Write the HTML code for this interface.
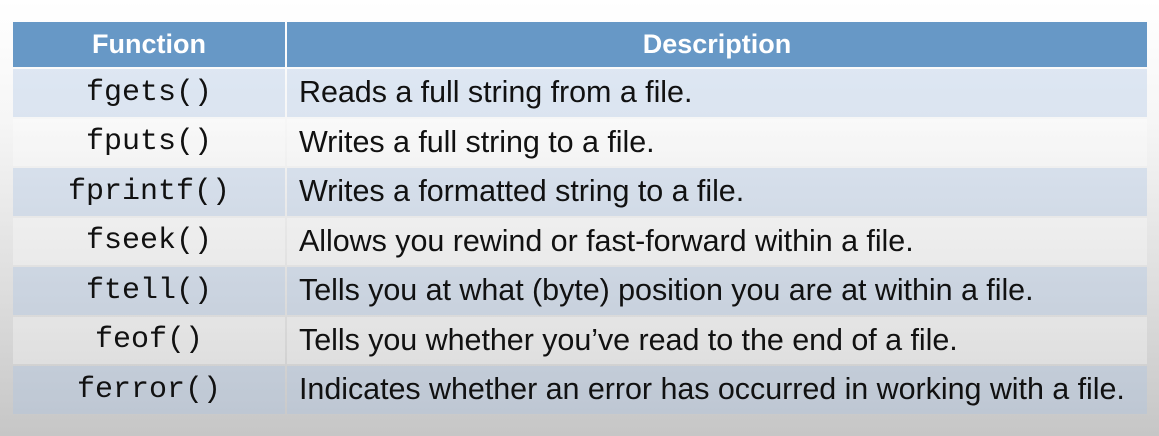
<!DOCTYPE html>
<html><head><meta charset="utf-8"><style>
html,body{margin:0;padding:0;width:1159px;height:436px;overflow:hidden;
background:linear-gradient(#ffffff 0px,#f6f6f6 120px,#dcdcdc 300px,#c6c6c6 436px);}
table{position:absolute;left:11px;top:20px;width:1138px;border-collapse:separate;border-spacing:2px 2px;}
td,th{padding:0;height:47.5px;}
th{background:#6798c6;color:#fff;font-family:"Liberation Sans",sans-serif;font-weight:bold;font-size:27px;height:45px;}
td.f{width:272px;text-align:center;font-family:"Liberation Mono",monospace;font-size:30px;color:#111;}
td.d{font-family:"Liberation Sans",sans-serif;font-size:30.5px;color:#111;padding-left:12px;letter-spacing:-0.05px;white-space:nowrap;}
tr.o td{background:rgba(170,195,228,0.35);}
tr.e td{background:rgba(255,255,255,0.3);}
</style></head><body>
<table>
<tr><th>Function</th><th>Description</th></tr>
<tr class="o"><td class="f">fgets()</td><td class="d">Reads a full string from a file.</td></tr>
<tr class="e"><td class="f">fputs()</td><td class="d">Writes a full string to a file.</td></tr>
<tr class="o"><td class="f">fprintf()</td><td class="d">Writes a formatted string to a file.</td></tr>
<tr class="e"><td class="f">fseek()</td><td class="d">Allows you rewind or fast-forward within a file.</td></tr>
<tr class="o"><td class="f">ftell()</td><td class="d">Tells you at what (byte) position you are at within a file.</td></tr>
<tr class="e"><td class="f">feof()</td><td class="d">Tells you whether you’ve read to the end of a file.</td></tr>
<tr class="o"><td class="f">ferror()</td><td class="d">Indicates whether an error has occurred in working with a file.</td></tr>
</table>
</body></html>
